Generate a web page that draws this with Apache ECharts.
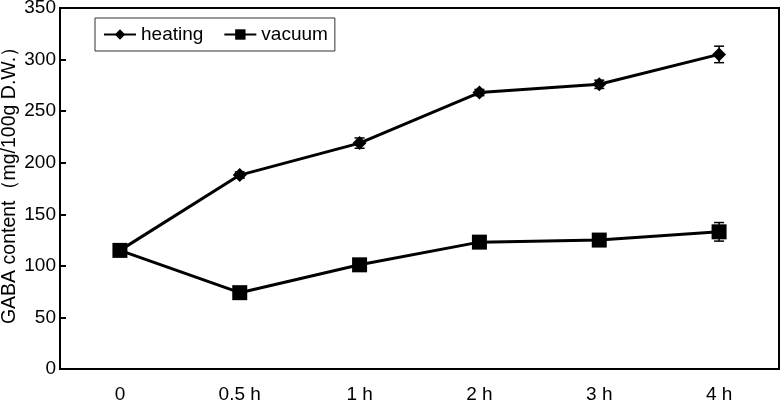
<!DOCTYPE html>
<html><head><meta charset="utf-8">
<script src="https://cdn.jsdelivr.net/npm/echarts@6/dist/echarts.min.js"></script>
<style>html,body{margin:0;padding:0;background:#fff}#c{width:783px;height:403px}</style>
</head><body><div id="c"></div>
<script>
const categories = ['0', '0.5 h', '1 h', '2 h', '3 h', '4 h'];
const heating = [115, 188, 219, 268, 276, 305];
const heatingErr = [4, 3, 5, 3, 4, 8];
const vacuum = [115, 74, 101, 123, 125, 133];
const vacuumErr = [5, 4, 4, 4, 4, 9];
const yTicks = [0, 50, 100, 150, 200, 250, 300, 350];

const chart = echarts.init(document.getElementById('c'));
const font = 'Liberation Sans, Arial, sans-serif';

function errSeries(vals, errs) {
  return {
    type: 'custom',
    silent: true,
    z: 1,
    data: vals.map((v, i) => [i, v - errs[i], v + errs[i]]),
    renderItem: function (params, api) {
      const lo = api.coord([api.value(0), api.value(1)]);
      const hi = api.coord([api.value(0), api.value(2)]);
      const w = 5;
      const st = { stroke: '#000', lineWidth: 1.5 };
      return { type: 'group', children: [
        { type: 'line', shape: { x1: lo[0], y1: lo[1], x2: hi[0], y2: hi[1] }, style: st },
        { type: 'line', shape: { x1: lo[0] - w, y1: lo[1], x2: lo[0] + w, y2: lo[1] }, style: st },
        { type: 'line', shape: { x1: hi[0] - w, y1: hi[1], x2: hi[0] + w, y2: hi[1] }, style: st }
      ]};
    }
  };
}

chart.setOption({
  animation: false,
  backgroundColor: '#fff',
  grid: { left: 60, right: 4, top: 8, bottom: 34, containLabel: false, outerBoundsMode: 'none',
          show: true, borderColor: '#000', borderWidth: 2 },
  legend: {
    left: 95, top: 18,
    padding: [7, 7, 7, 8],
    itemGap: 20,
    itemWidth: 32, itemHeight: 13,
    borderColor: '#333', borderWidth: 1,
    textStyle: { fontFamily: font, fontSize: 19, color: '#000' },
    data: ['heating', 'vacuum']
  },
  xAxis: {
    type: 'category',
    data: categories,
    boundaryGap: true,
    axisLine: { lineStyle: { color: '#000', width: 2 } },
    axisTick: { inside: true, length: 6, lineStyle: { color: '#000', width: 2 } },
    axisLabel: { fontFamily: font, fontSize: 19, color: '#000', margin: 16 }
  },
  yAxis: {
    type: 'value',
    min: 0, max: 350, interval: 50,
    name: 'GABA content（mg/100g D.W.）',
    nameLocation: 'middle',
    nameGap: 40,
    nameMoveOverlap: false,
    nameTextStyle: { fontFamily: font, fontSize: 19.5, color: '#000', padding: [0, 0, 0, 16] },
    axisLine: { show: true, lineStyle: { color: '#000', width: 2 } },
    axisTick: { show: true, inside: true, length: 6, lineStyle: { color: '#000', width: 2 } },
    splitLine: { show: false },
    axisLabel: { fontFamily: font, fontSize: 19, color: '#000', margin: 4,
      formatter: v => yTicks.indexOf(v) >= 0 ? String(v) : '' }
  },
  series: [
    errSeries(heating, heatingErr),
    errSeries(vacuum, vacuumErr),
    {
      name: 'heating', type: 'line', data: heating,
      symbol: 'diamond', symbolSize: 14, z: 3,
      lineStyle: { color: '#000', width: 3 },
      itemStyle: { color: '#000' }
    },
    {
      name: 'vacuum', type: 'line', data: vacuum,
      symbol: 'rect', symbolSize: 15, z: 3,
      lineStyle: { color: '#000', width: 3 },
      itemStyle: { color: '#000' }
    }
  ]
});
</script></body></html>
